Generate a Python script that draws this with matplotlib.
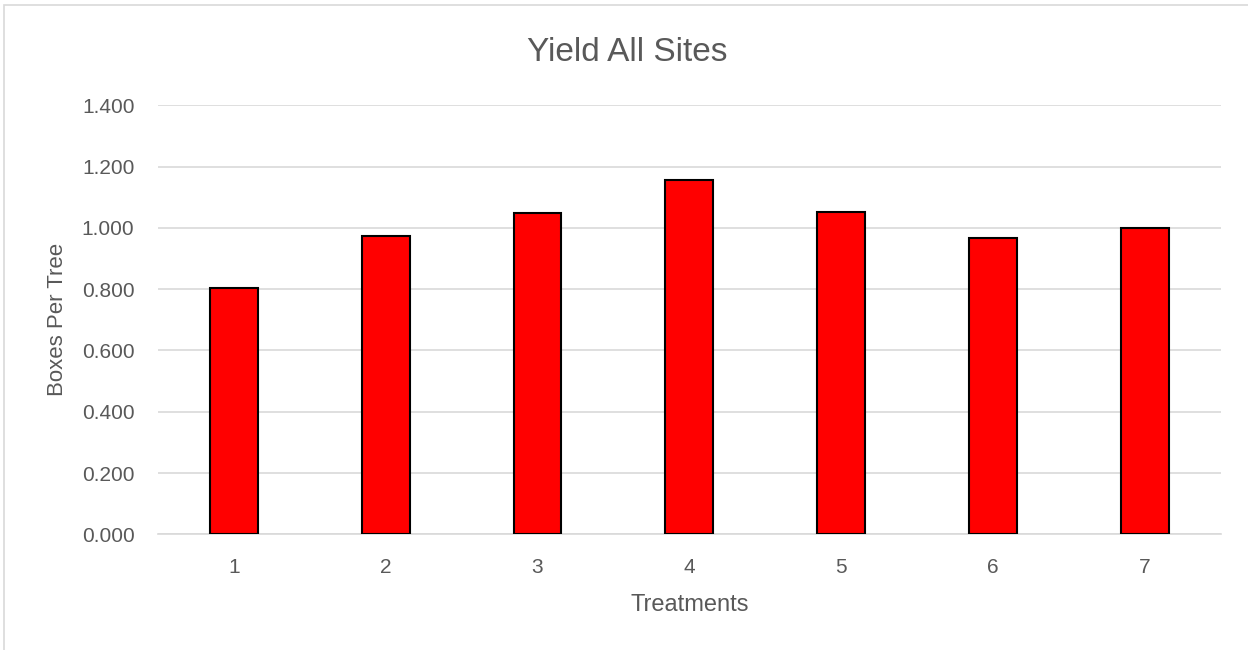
import matplotlib.pyplot as plt
from matplotlib.patches import Rectangle

# Data
treatments = ['1', '2', '3', '4', '5', '6', '7']
boxes_per_tree = [0.803, 0.972, 1.049, 1.155, 1.051, 0.968, 0.998]

plt.rcParams['font.family'] = ['Liberation Sans', 'DejaVu Sans']
grey = '#595959'

fig = plt.figure(figsize=(12.48, 6.5), dpi=100)
ax = fig.add_axes([0.1266, 0.178, 0.8514, 0.66])

ax.bar(range(len(treatments)), boxes_per_tree, width=0.315,
       color='#ff0000', edgecolor='black', linewidth=1.5, zorder=3)

ax.set_xlim(-0.5, len(treatments) - 0.5)
ax.set_ylim(0, 1.4)
ax.set_yticks([0, 0.2, 0.4, 0.6, 0.8, 1.0, 1.2, 1.4])
ax.set_yticklabels([f"{v:.3f}" for v in ax.get_yticks()])
ax.set_xticks(range(len(treatments)))
ax.set_xticklabels(treatments)
ax.tick_params(axis='both', length=0, labelsize=15, colors=grey)
ax.tick_params(axis='x', pad=17)
ax.tick_params(axis='y', pad=17)

ax.grid(axis='y', color='#d9d9d9', linewidth=1.2, zorder=0)
for s in ['top', 'right', 'left']:
    ax.spines[s].set_visible(False)
ax.spines['bottom'].set_color('#d9d9d9')
ax.spines['bottom'].set_linewidth(1.2)

ax.set_xlabel('Treatments', fontsize=17, color=grey, labelpad=12)
ax.set_ylabel('Boxes Per Tree', fontsize=16, color=grey, labelpad=10)
fig.text(0.503, 0.919, 'Yield All Sites', ha='center', va='center',
         fontsize=24, color=grey)

# light chart-area border
fig.patches.append(Rectangle((0.003, -0.01), 1.2, 1.0023, transform=fig.transFigure,
                             fill=False, edgecolor='#d9d9d9', linewidth=1.2))

fig.savefig('out.png', dpi=100)
